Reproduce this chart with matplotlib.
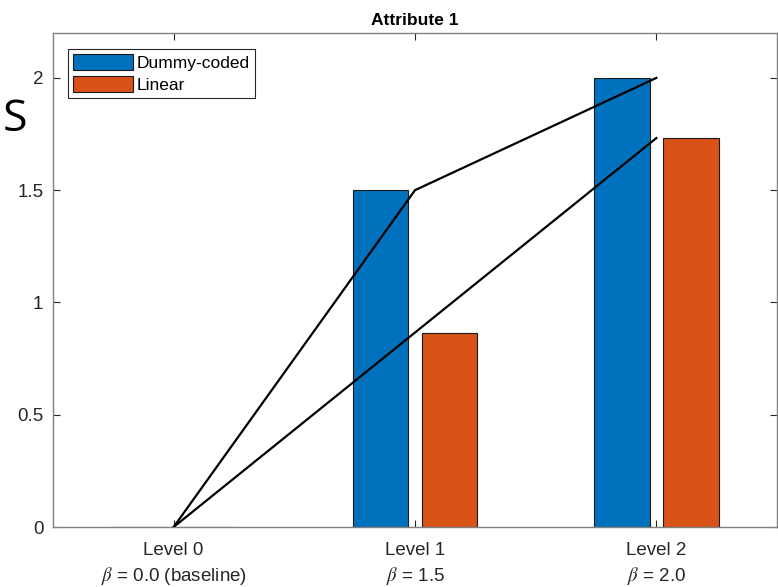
import matplotlib
matplotlib.use('Agg')
import matplotlib.pyplot as plt
import numpy as np

levels = ['Level 0\n$\\beta$ = 0.0 (baseline)',
          'Level 1\n$\\beta$ = 1.5',
          'Level 2\n$\\beta$ = 2.0']
dummy = [0.0, 1.5, 2.0]
linear = [0.0, 0.866, 1.732]
yticks = [0, 0.5, 1, 1.5, 2]
ytick_labels = ['0', '0.5', '1', '1.5', '2']

blue = '#0072BD'
orange = '#D95319'
axis_gray = '#262626'

plt.rcParams['font.family'] = ['Liberation Sans', 'DejaVu Sans']
plt.rcParams['mathtext.fontset'] = 'stix'

fig = plt.figure(figsize=(7.78, 5.87), dpi=100)
ax = fig.add_axes([53 / 778, 1 - 527 / 587, 724 / 778, 494 / 587])

x = np.arange(len(levels))
w = 0.23
off = 0.143
ax.bar(x - off, dummy, w, color=blue, edgecolor='#1a1a1a', linewidth=0.8,
       label='Dummy-coded', zorder=2)
ax.bar(x + off, linear, w, color=orange, edgecolor='#1a1a1a', linewidth=0.8,
       label='Linear', zorder=2)

ax.plot(x, dummy, '-', color='black', linewidth=1.6, zorder=3)
ax.plot(x, linear, '-', color='black', linewidth=1.6, zorder=3)

ax.set_xlim(-0.5, 2.5)
ax.set_ylim(0, 2.2)
ax.set_xticks(x)
ax.set_xticklabels(levels, fontsize=13.5, color=axis_gray, linespacing=1.35)
ax.set_yticks(yticks)
ax.set_yticklabels(ytick_labels, fontsize=13.5, color=axis_gray)
ax.tick_params(direction='in', length=5, width=0.8, color=axis_gray,
               top=True, right=True)
ax.tick_params(axis='x', pad=11)
ax.tick_params(axis='y', pad=7)
for s in ax.spines.values():
    s.set_color('#808080')
    s.set_linewidth(1.0)

ax.set_title('Attribute 1', fontsize=12.5, fontweight='bold', pad=6)

leg = ax.legend(loc='upper left', bbox_to_anchor=(0.021, 0.968),
                fontsize=12.5, fancybox=False, framealpha=1,
                edgecolor='#262626', handlelength=3.45, handleheight=1.05,
                handletextpad=0.2, borderpad=0.3, labelspacing=0.3,
                borderaxespad=0)
leg.get_frame().set_linewidth(0.8)

fig.text(3 / 778, 1 - 120 / 587, 'S', fontsize=32, family='Open Sans',
         ha='left', va='center', color='black')

fig.savefig('out.png', dpi=100, facecolor='white')
